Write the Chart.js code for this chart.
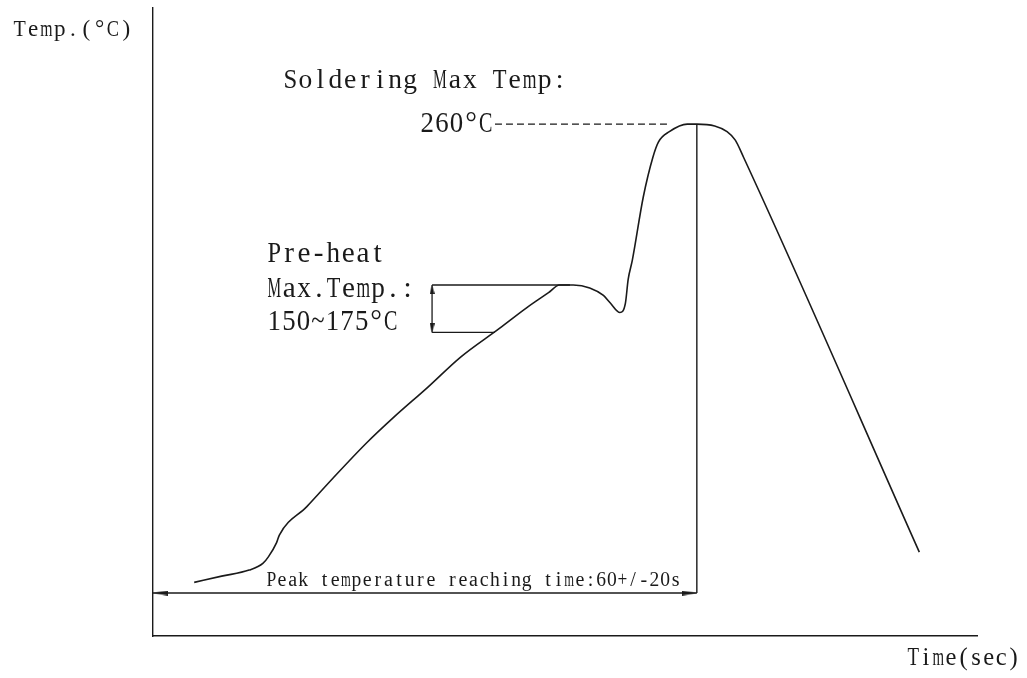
<!DOCTYPE html>
<html><head><meta charset="utf-8">
<script src="https://cdn.jsdelivr.net/npm/chart.js@4.4.1/dist/chart.umd.min.js"></script>
<style>html,body{margin:0;padding:0;background:#fff;}canvas{display:block;}</style>
</head><body>
<canvas id="c" width="1027" height="678"></canvas>
<script>
// ---- data (time in s, temperature in °C) ----
const timeSec = [15, 25, 35, 40, 42, 45, 46, 56, 65.5, 78, 87.5, 100, 112, 126, 136, 144, 148, 153, 159, 164, 166.5, 170, 172, 173, 174.5, 178.5, 182, 184, 188, 194.5, 198, 204.5, 209, 212, 215, 279];
const tempC   = [18, 21.3, 24.5, 28, 31.5, 39, 43, 58, 73, 92, 105, 121, 137, 152, 163, 171, 175, 175, 173.5, 169.5, 165.5, 160.5, 165.5, 178, 188, 221.5, 242.5, 250.5, 256, 260, 260, 259, 256, 251.5, 242.5, 34];
const peakTime = 198;
const peakTemp = 260;
const dashTimes = [124.5, 187.5];
const spanTimes = [0, 198];
const spanTemp = 12.4;
const preheatTemps = [150, 175];
const bracketTime = 101.6;
const preheatTopEnd = 151.8;
const preheatLowEnd = 124.5;
const xRange = [0, 300];
const yRange = [-10.3, 321.3];

const INK = '#1a1a1a';

function arrowCanvas(L, H) {
  const c = document.createElement('canvas');
  c.width = 2 * L; c.height = H;
  const g = c.getContext('2d');
  g.fillStyle = INK;
  g.beginPath(); g.moveTo(0, 0); g.lineTo(L, H / 2); g.lineTo(0, H); g.closePath(); g.fill();
  return c;
}
const arrowBig = arrowCanvas(15, 5);
const arrowSmall = arrowCanvas(9, 5);

const texts = [
  {s: 'Temp.(°C)', x: 13, b: 36, cap: 15, w: 120},
  {s: 'Soldering Max Temp:', x: 283, b: 88, cap: 18, w: 284},
  {s: '260°C', x: 420, b: 132, cap: 19, w: 73},
  {s: 'Pre-heat', x: 267, b: 262, cap: 19, w: 118},
  {s: 'Max.Temp.:', x: 267, b: 297, cap: 19, w: 148},
  {s: '150~175°C', x: 267, b: 330, cap: 19, w: 131},
  {s: 'Peak temperature reaching time:60+/-20s', x: 266, b: 586, cap: 13, w: 415},
  {s: 'Time(sec)', x: 907, b: 665, cap: 16, w: 113}
];
const FONT = '"Liberation Serif", serif';

// draws serif glyphs on a fixed-pitch grid (monospaced look of the original)
const textPlugin = {
  id: 'texts',
  afterDraw(chart) {
    const ctx = chart.ctx;
    ctx.save();
    ctx.font = '100px ' + FONT;
    const capRatio = ctx.measureText('H').actualBoundingBoxAscent / 100;
    ctx.fillStyle = INK;
    ctx.textBaseline = 'alphabetic';
    ctx.textAlign = 'center';
    texts.forEach(t => {
      const size = t.cap / capRatio;
      ctx.font = size.toFixed(2) + 'px ' + FONT;
      const chars = Array.from(t.s);
      const cell = t.w / chars.length;
      chars.forEach((ch, i) => {
        if (ch === ' ') return;
        const cw = ctx.measureText(ch).width;
        const s = Math.min(1, (cell * 0.92) / cw);
        ctx.save();
        ctx.translate(t.x + (i + 0.5) * cell, t.b);
        ctx.scale(s, 1);
        ctx.fillText(ch, 0, 0);
        ctx.restore();
      });
    });
    ctx.restore();
  }
};

const lineDs = (data, extra) => Object.assign({
  data, showLine: true, borderColor: INK, backgroundColor: INK,
  borderWidth: 1.4, pointRadius: 0, tension: 0, fill: false
}, extra || {});

new Chart(document.getElementById('c'), {
  type: 'scatter',
  data: {
    datasets: [
      lineDs(timeSec.map((t, i) => ({x: t, y: tempC[i]})), {borderWidth: 1.6, cubicInterpolationMode: 'monotone'}),
      lineDs([{x: dashTimes[0], y: peakTemp}, {x: dashTimes[1], y: peakTemp}], {borderDash: [7, 4], borderWidth: 1.3}),
      lineDs([{x: peakTime, y: peakTemp}, {x: peakTime, y: spanTemp}], {borderWidth: 1.4}),
      lineDs([{x: spanTimes[0], y: spanTemp}, {x: spanTimes[1], y: spanTemp}], {
        borderWidth: 1.4, pointRadius: 3, pointStyle: arrowBig, pointRotation: [180, 0]
      }),
      lineDs([{x: bracketTime, y: preheatTemps[1]}, {x: preheatTopEnd, y: preheatTemps[1]}], {borderWidth: 1.6}),
      lineDs([{x: bracketTime, y: preheatTemps[0]}, {x: preheatLowEnd, y: preheatTemps[0]}], {borderWidth: 1.4}),
      lineDs([{x: bracketTime, y: preheatTemps[0]}, {x: bracketTime, y: preheatTemps[1]}], {
        borderWidth: 1.3, pointRadius: 3, pointStyle: arrowSmall, pointRotation: [90, -90]
      })
    ]
  },
  options: {
    responsive: false,
    animation: false,
    events: [],
    layout: {padding: {left: 153, top: 8, right: 50, bottom: 42}},
    plugins: {legend: {display: false}, tooltip: {enabled: false}, title: {display: false}},
    scales: {
      x: {
        type: 'linear', min: xRange[0], max: xRange[1],
        ticks: {display: false},
        grid: {display: false, drawTicks: false, tickLength: 0},
        border: {display: true, color: INK, width: 1.4}
      },
      y: {
        type: 'linear', min: yRange[0], max: yRange[1],
        ticks: {display: false},
        grid: {display: false, drawTicks: false, tickLength: 0},
        border: {display: true, color: INK, width: 1.4}
      }
    }
  },
  plugins: [textPlugin]
});
</script>
</body></html>
